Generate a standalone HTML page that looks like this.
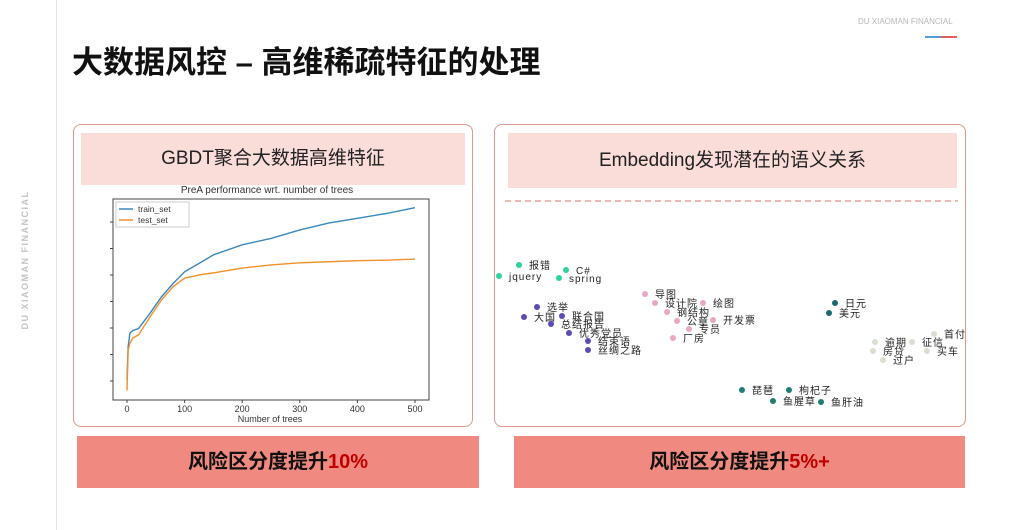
<!DOCTYPE html>
<html><head><meta charset="utf-8">
<style>
body{margin:0;width:1012px;height:530px;background:#fff;position:relative;overflow:hidden;font-family:"Liberation Sans","Noto Sans CJK SC",sans-serif}
.abs{position:absolute}
</style></head><body>
<div class="abs" style="left:56px;top:0;width:1px;height:530px;background:#e6e6e6"></div>
<div class="abs" style="left:-50px;top:255px;width:150px;transform:rotate(-90deg);font-size:9px;font-weight:bold;color:#c4c4c4;letter-spacing:1.5px;text-align:center">DU XIAOMAN FINANCIAL</div>
<div class="abs" style="left:858px;top:17px;font-size:8px;color:#b8b8b8">DU XIAOMAN FINANCIAL</div>
<div class="abs" style="left:925px;top:36px;width:16px;height:2px;background:#5a9ad8"></div>
<div class="abs" style="left:941px;top:36px;width:16px;height:2px;background:#e06060"></div>
<div class="abs" style="left:72px;top:37px;font-size:31px;font-weight:bold;color:#111;letter-spacing:0px">大数据风控 – 高维稀疏特征的处理</div>

<div class="abs" style="left:73px;top:124px;width:398px;height:301px;border:1.5px solid #e0968c;border-radius:8px"></div>
<div class="abs" style="left:81px;top:133px;width:384px;height:52px;background:#fadcd8;font-size:19px;color:#222;text-align:center;line-height:52px">GBDT聚合大数据高维特征</div>

<svg class="abs" style="left:0;top:0" width="1012" height="530">
<text x="267" y="193" font-size="10" fill="#333" text-anchor="middle">PreA performance wrt. number of trees</text>
<rect x="113" y="199" width="316" height="201" fill="#fff" stroke="#444" stroke-width="1"/>
<g id="axes"></g>
<text x="270" y="422" font-size="9" fill="#333" text-anchor="middle">Number of trees</text>
<g>
<rect x="116" y="202" width="73" height="25" fill="#fff" stroke="#ccc"/>
<line x1="119" y1="209" x2="133" y2="209" stroke="#3a87bd" stroke-width="1.5"/>
<text x="138" y="212" font-size="8.5" fill="#333">train_set</text>
<line x1="119" y1="220" x2="133" y2="220" stroke="#f0902a" stroke-width="1.5"/>
<text x="138" y="223" font-size="8.5" fill="#333">test_set</text>
</g>
<line x1="505" y1="201" x2="958" y2="201" stroke="#e09088" stroke-width="1.2" stroke-dasharray="6,4"/>
<g id="scatter"></g>
</svg>

<div class="abs" style="left:494px;top:124px;width:470px;height:301px;border:1.5px solid #e0968c;border-radius:8px;pointer-events:none"></div>
<div class="abs" style="left:508px;top:133px;width:449px;height:55px;background:#fadcd8;font-size:19px;color:#222;text-align:center;line-height:55px">Embedding发现潜在的语义关系</div>

<div class="abs" style="left:77px;top:436px;width:402px;height:52px;background:#f08a80;text-align:center;line-height:52px;font-size:20px;font-weight:bold;color:#111">风险区分度提升<span style="color:#c00000">10%</span></div>
<div class="abs" style="left:514px;top:436px;width:451px;height:52px;background:#f08a80;text-align:center;line-height:52px;font-size:20px;font-weight:bold;color:#111">风险区分度提升<span style="color:#c00000">5%+</span></div>

<script>
const trees=[0,2,5,10,20,40,60,80,100,130,150,200,250,300,350,400,450,500];
const trainVals=[0.602,0.665,0.690,0.695,0.699,0.728,0.759,0.784,0.806,0.825,0.838,0.857,0.869,0.885,0.898,0.907,0.916,0.927];
const testVals=[0.582,0.658,0.671,0.681,0.687,0.721,0.753,0.778,0.794,0.801,0.804,0.813,0.819,0.823,0.825,0.827,0.828,0.830];
const xTicks=[0,100,200,300,400,500];
const yTicks=[0.60,0.65,0.70,0.75,0.80,0.85,0.90];

const words=["报错","C#","jquery","spring","导图","设计院","绘图","钢结构","公章","开发票","专员","厂房","选举","大国","联合国","总结报告","优秀党员","结束语","丝绸之路","日元","美元","首付","逾期","征信","房贷","买车","过户","琵琶","枸杞子","鱼腥草","鱼肝油"];
const embX=[2.4,7.1,0.4,6.4,15.0,16.0,20.8,17.2,18.2,21.8,19.4,17.8,4.2,2.9,6.7,5.6,7.4,9.3,9.3,34.0,33.4,43.9,38.0,41.7,37.8,43.2,38.8,24.7,29.4,27.8,32.6];
const embY=[-1.5,-2.0,-2.6,-2.8,-4.4,-5.3,-5.3,-6.2,-7.1,-7.0,-7.9,-8.8,-5.7,-6.7,-6.6,-7.4,-8.3,-9.1,-10.0,-5.3,-6.3,-8.4,-9.2,-9.2,-10.1,-10.1,-11.0,-14.0,-14.0,-15.1,-15.2];
const groups=[0,0,0,0,1,1,1,1,1,1,1,1,2,2,2,2,2,2,2,3,3,4,4,4,4,4,4,5,5,5,5];
const groupColors=["#2ed3a0","#e8a8c6","#5a4cb6","#1d6a6a","#d8e0d2","#1f7d72"];

const NS="http://www.w3.org/2000/svg";
const xS=v=>127+(v-0)/500*288;
const yS=v=>381-(v-0.60)/0.05*26.5;
const ex=v=>495+v*10;
const ey=v=>250-v*10;
const axes=document.getElementById('axes');
xTicks.forEach(t=>{
 const l=document.createElementNS(NS,'line');
 l.setAttribute('x1',xS(t));l.setAttribute('x2',xS(t));l.setAttribute('y1',400);l.setAttribute('y2',403);l.setAttribute('stroke','#444');
 
 
 axes.appendChild(l);
 const tx=document.createElementNS(NS,'text');
 tx.setAttribute('x',xS(t));tx.setAttribute('y',412);tx.setAttribute('font-size','9');tx.setAttribute('fill','#333');tx.setAttribute('text-anchor','middle');
 tx.textContent=t;
 
 
 axes.appendChild(tx);
});
yTicks.forEach(t=>{
 const l=document.createElementNS(NS,'line');
 l.setAttribute('x1',110);l.setAttribute('x2',113);l.setAttribute('y1',yS(t));l.setAttribute('y2',yS(t));l.setAttribute('stroke','#444');
 
 
 axes.appendChild(l);
});
function line(vals,color,name){
 const p=document.createElementNS(NS,'polyline');
 p.setAttribute('points',trees.map((t,i)=>xS(t)+','+yS(vals[i])).join(' '));
 p.setAttribute('fill','none');p.setAttribute('stroke',color);p.setAttribute('stroke-width','1.4');
 
 
 axes.appendChild(p);
}
line(trainVals,'#3a87bd','train-set-line');
line(testVals,'#f0902a','test-set-line');

const sc=document.getElementById('scatter');
words.forEach((w,i)=>{
 const c=document.createElementNS(NS,'circle');
 c.setAttribute('cx',ex(embX[i]));c.setAttribute('cy',ey(embY[i]));c.setAttribute('r',3);c.setAttribute('fill',groupColors[groups[i]]);
 
 
 sc.appendChild(c);
 const t=document.createElementNS(NS,'text');
 t.setAttribute('x',ex(embX[i])+10);t.setAttribute('y',ey(embY[i])+4);t.setAttribute('font-size','10');t.setAttribute('fill','#222');t.setAttribute('letter-spacing','1');
 t.textContent=w;
 
 
 sc.appendChild(t);
});
</script>
</body></html>
